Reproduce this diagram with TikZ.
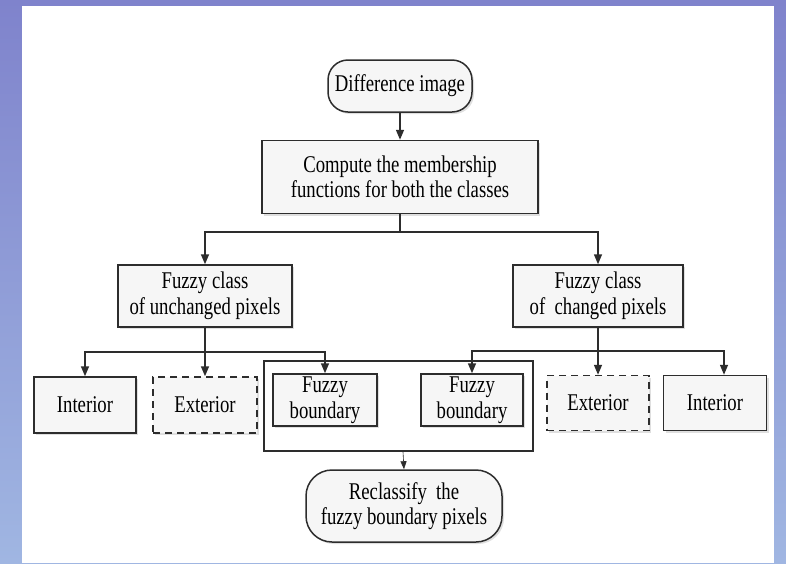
\documentclass[tikz,border=0pt]{standalone}
\usepackage{fontspec}
\setmainfont{Liberation Serif}[FakeStretch=0.78]
\usetikzlibrary{arrows.meta,shadows}
\definecolor{frametop}{RGB}{127,131,204}
\definecolor{framebot}{RGB}{160,182,226}
\definecolor{boxline}{RGB}{45,45,45}
\begin{document}
\begin{tikzpicture}[x=1pt,y=-1pt,
		font=\fontsize{24}{25.5}\selectfont,
		base_box/.style={draw=boxline,line width=1.5pt,fill=gray!7,align=center,inner sep=2pt,
			drop shadow={shadow xshift=2pt,shadow yshift=-2pt,opacity=0.25}},
		round_box/.style={base_box,rounded corners=20pt},
		dash_box/.style={base_box,dashed,dash pattern=on 7pt off 5pt},
		arr/.style={draw=boxline,line width=1.5pt,-{Triangle[length=10pt,width=8pt]}}]
		
		\useasboundingbox (0,0) rectangle (786,563);
		\shade[top color=frametop,bottom color=framebot] (0,0) rectangle (786,563);
		\fill[white] (22,6) rectangle (774,563);
		
		\node[round_box,minimum width=144pt,minimum height=52pt] (diff) at (400,86) {Difference image};
		\node[base_box,minimum width=276pt,minimum height=73pt] (comp) at (400,177) {Compute the membership\\functions for both the classes};
		
		\node[base_box,minimum width=174pt,minimum height=62pt] (fcu) at (205,296) {Fuzzy class\\of unchanged pixels};
		\node[base_box,minimum width=170pt,minimum height=62pt] (fcc) at (598,296) {Fuzzy class\\of~ changed pixels};
		
		\node[base_box,minimum width=102pt,minimum height=56pt] (intl) at (85,405) {Interior};
		\node[dash_box,minimum width=104pt,minimum height=56pt] (extl) at (205,405) {Exterior};
		\node[draw=boxline,line width=1.5pt,minimum width=269pt,minimum height=90pt] (grp) at (398.5,406) {};
		\node[base_box,minimum width=104pt,minimum height=52pt] (fbl) at (325,400) {Fuzzy\\boundary};
		\node[base_box,minimum width=102pt,minimum height=52pt] (fbr) at (472,400) {Fuzzy\\boundary};
		\node[dash_box,minimum width=102pt,minimum height=55pt] (extr) at (598,403) {Exterior};
		\node[base_box,minimum width=103pt,minimum height=55pt] (intr) at (715,403) {Interior};
		
		\node[round_box,rounded corners=26pt,minimum width=196pt,minimum height=72pt] (recl) at (404,506) {Reclassify~ the\\fuzzy boundary pixels};
		
		\coordinate (jc) at (400,232);
		\coordinate (jl) at (205,352);
		\coordinate (jr) at (598,351);
		
		\draw[arr] (diff) -- (comp);
		
		\draw[draw=boxline,line width=1.5pt] (comp.south) -- (jc);
		\draw[arr] (jc) -| (fcu.north);
		\draw[arr] (jc) -| (fcc.north);
		
		\draw[draw=boxline,line width=1.5pt] (fcu.south) -- (jl);
		\draw[arr] (jl) -| (intl.north);
		\draw[arr] (jl) -- (extl.north);
		\draw[arr] (jl) -| (fbl.north);
		
		\draw[draw=boxline,line width=1.5pt] (fcc.south) -- (jr);
		\draw[arr] (jr) -| (fbr.north);
		\draw[arr] (jr) -- (extr.north);
		\draw[arr] (jr) -| ([xshift=9pt]intr.north);
		
		\draw[draw=boxline,line width=0.6pt,-{Triangle[length=8pt,width=6pt]}] ([xshift=4.5pt]grp.south) -- (recl.north);
		\end{tikzpicture}
\end{document}
